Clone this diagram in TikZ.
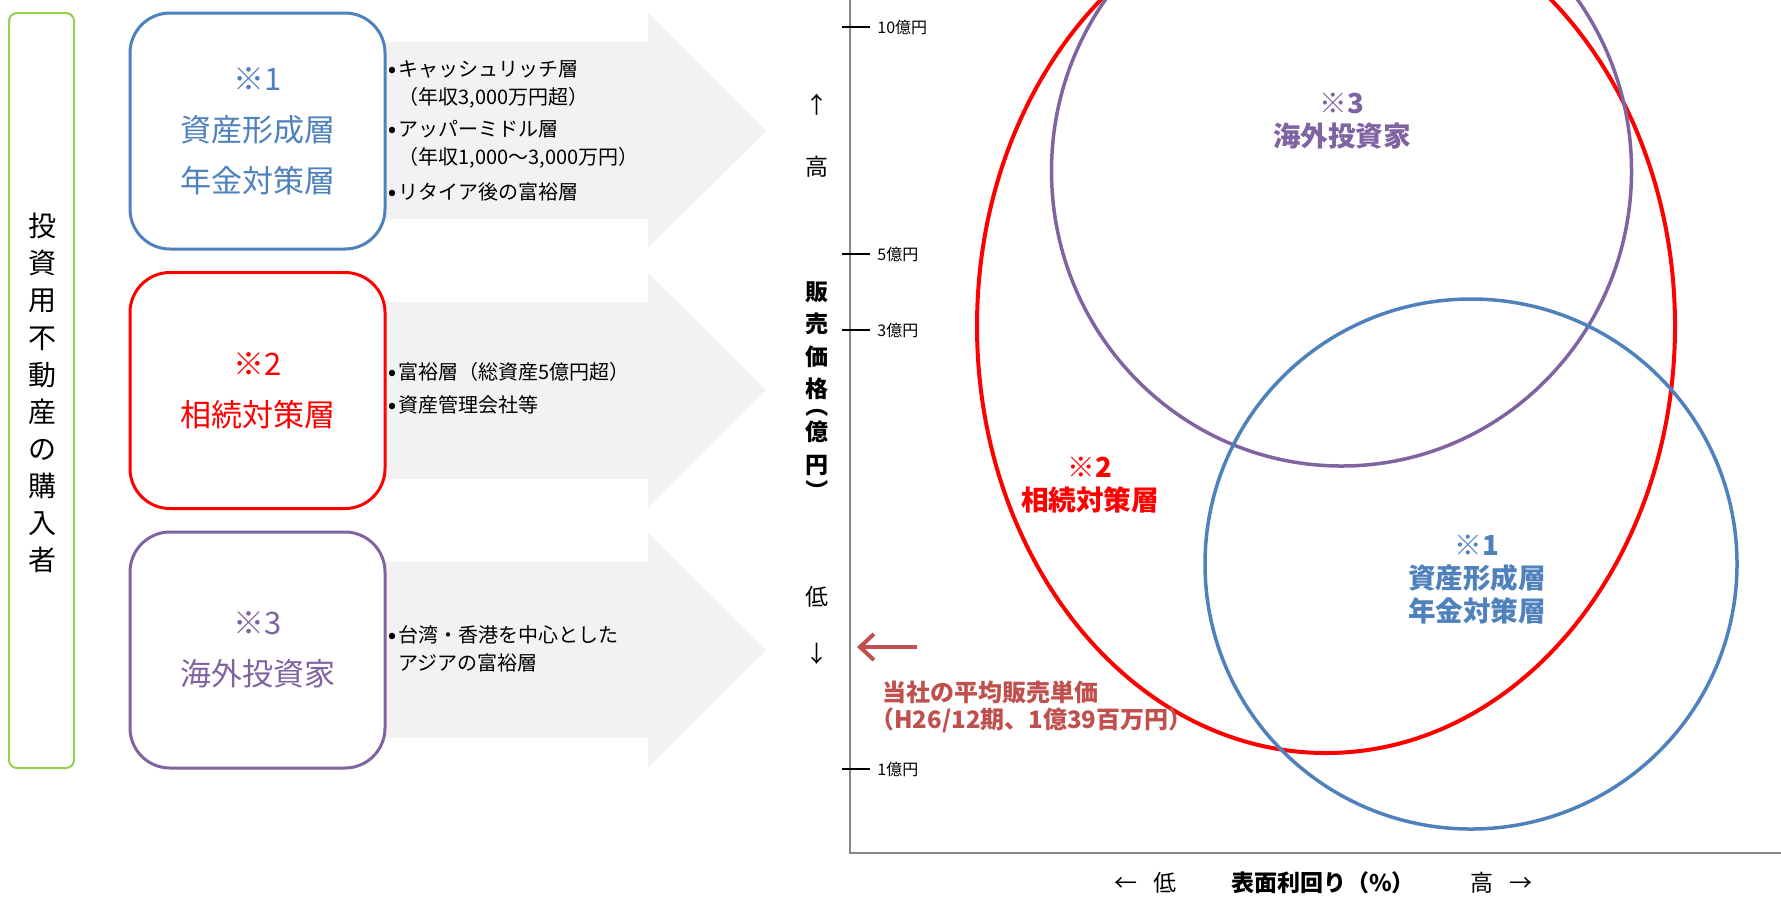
\documentclass[tikz,border=0pt]{standalone}
\usepackage{fontspec}
\usepackage{graphicx}
\setmainfont{Noto Sans CJK JP}
\usetikzlibrary{arrows.meta}
\definecolor{cblue}{HTML}{4F81BD}
\definecolor{cred}{HTML}{FF0000}
\definecolor{cpurple}{HTML}{8064A2}
\definecolor{cgreen}{HTML}{92D050}
\definecolor{carrow}{HTML}{F2F2F2}
\definecolor{caxis}{HTML}{868686}
\definecolor{cbrick}{HTML}{C0504D}
\newcommand\bul{\makebox[6pt][c]{\textbf{•}}}
\newcommand\vparen[1]{\rotatebox[origin=c]{-90}{#1}}
\begin{document}
\begin{tikzpicture}[x=0.5pt,y=-0.5pt,
  catbox/.style={draw, line width=1.5pt, rounded corners=20pt, fill=white,
    minimum width=127.5pt, minimum height=118pt, align=center, inner sep=0pt,
    font=\fontsize{15.5}{25.5}\selectfont},
  desc/.style={anchor=west, align=left, inner sep=0pt, font=\fontsize{10}{14}\selectfont},
  bigarrow/.style={fill=carrow, draw=none},
  tickline/.style={black, line width=0.7pt},
  ticklabel/.style={anchor=west, inner sep=0pt, font=\fontsize{8}{9}\selectfont},
  sidelabel/.style={inner sep=0pt, font=\fontsize{11.5}{13}\selectfont},
  elabel/.style={align=center, inner sep=0pt, font=\bfseries\fontsize{13.8}{16.5}\selectfont},
  brick/.style={text=cbrick, inner sep=0pt, anchor=west, font=\bfseries\fontsize{12}{14}\selectfont}]
\useasboundingbox (0,0) rectangle (1781,896);
\fill[white] (0,0) rectangle (1781,896);

% left buyer box
\node[draw=cgreen, line width=1pt, rounded corners=4pt, minimum width=32.5pt, minimum height=377.5pt, inner sep=0pt] (buyers) at (41.5,390.5) {};
\node[inner sep=0pt, align=center, font=\fontsize{14}{18.55}\selectfont] (buyerstxt) at (42,393)
  {投\\資\\用\\不\\動\\産\\の\\購\\入\\者};

% grey arrows
\fill[bigarrow] (330,42) -- (648,42) -- (648,13) -- (766,131) -- (648,248) -- (648,219) -- (330,219) -- cycle;
\fill[bigarrow] (330,302) -- (648,302) -- (648,273) -- (766,390) -- (648,508) -- (648,479) -- (330,479) -- cycle;
\fill[bigarrow] (330,562) -- (648,562) -- (648,533) -- (766,650) -- (648,768) -- (648,738) -- (330,738) -- cycle;

% category boxes
\node[catbox, draw=cblue, text=cblue] (cat1) at (257.5,131) {※1\\資産形成層\\年金対策層};
\node[catbox, draw=cred, text=cred] (cat2) at (257.5,390.5) {※2\\相続対策層};
\node[catbox, draw=cpurple, text=cpurple] (cat3) at (257.5,650) {※3\\海外投資家};

% descriptions
\node[desc] (d11) at (386,84) {\bul キャッシュリッチ層\\\hspace{6pt}（年収3,000万円超）};
\node[desc] (d12) at (386,144) {\bul アッパーミドル層\\\hspace{6pt}（年収1,000～3,000万円）};
\node[desc] (d13) at (386,192) {\bul リタイア後の富裕層};
\node[desc] (d21) at (386,372) {\bul 富裕層（総資産5億円超）};
\node[desc] (d22) at (386,405) {\bul 資産管理会社等};
\node[desc] (d31) at (386,649) {\bul 台湾・香港を中心とした\\\hspace{6pt}アジアの富裕層};

% chart axes
\coordinate (ytop) at (850,0);
\coordinate (origin) at (850,853);
\coordinate (xend) at (1781,853);
\draw[caxis, line width=1pt] (ytop) -- (origin) -- (xend);

% ticks
\draw[tickline] (842,27) -- (870,27) coordinate (t10);
\draw[tickline] (842,254) -- (870,254) coordinate (t5);
\draw[tickline] (842,330) -- (870,330) coordinate (t3);
\draw[tickline] (842,769) -- (870,769) coordinate (t1);
\node[ticklabel] (l10) at (877,27) {10億円};
\node[ticklabel] (l5) at (877,254) {5億円};
\node[ticklabel] (l3) at (877,330) {3億円};
\node[ticklabel] (l1) at (877,769) {1億円};

% y-axis side labels
\node[sidelabel] (upa) at (817,105) {↑};
\node[sidelabel] (hi) at (817,167) {高};
\node[inner sep=0pt, anchor=north, align=center, font=\bfseries\fontsize{11.5}{16.3}\selectfont] (ylab) at (817,281)
  {販\\売\\価\\格\\[-7.8pt]\vparen{（}\\[-3.3pt]億\\円\\[-3.3pt]\vparen{）}};
\node[sidelabel] (lo) at (817,597) {低};
\node[sidelabel] (dna) at (817,654) {↓};

% x-axis labels
\node[sidelabel] (xlo) at (1145,883) {←\hspace{8pt}低};
\node[sidelabel, font=\bfseries\fontsize{11.5}{13}\selectfont] (xlab) at (1323,883) {表面利回り（\%）};
\node[sidelabel] (xhi) at (1501,883) {高\hspace{8pt}→};

% ellipses
\begin{scope}
\clip (0,0) rectangle (1781,896);
\draw[cred, line width=2pt] (1326,326) ellipse [x radius=174.5pt, y radius=213.5pt];
\draw[cpurple, line width=1.75pt] (1341.5,171) ellipse [x radius=145pt, y radius=147.5pt];
\draw[cblue, line width=1.75pt] (1471,564) ellipse [x radius=133pt, y radius=132.5pt];
\end{scope}

\node[elabel, text=cpurple] (e3) at (1342,121.5) {※3\\海外投資家};
\node[elabel, text=cred] (e2) at (1090,485.5) {※2\\相続対策層};
\node[elabel, text=cblue] (e1) at (1477,580) {※1\\資産形成層\\年金対策層};

% average price marker
\coordinate (avgfrom) at (917,647);
\coordinate (avgto) at (857,647);
\draw[cbrick, line width=2pt, -{Straight Barb[length=7pt,width=13pt,line width=2pt]}] (avgfrom) -- (avgto);
\node[brick] (avg1) at (882,692) {当社の平均販売単価};
\node[brick] (avg2) at (870,720) {（H26/12期、1億39百万円）};
\end{tikzpicture}
\end{document}
